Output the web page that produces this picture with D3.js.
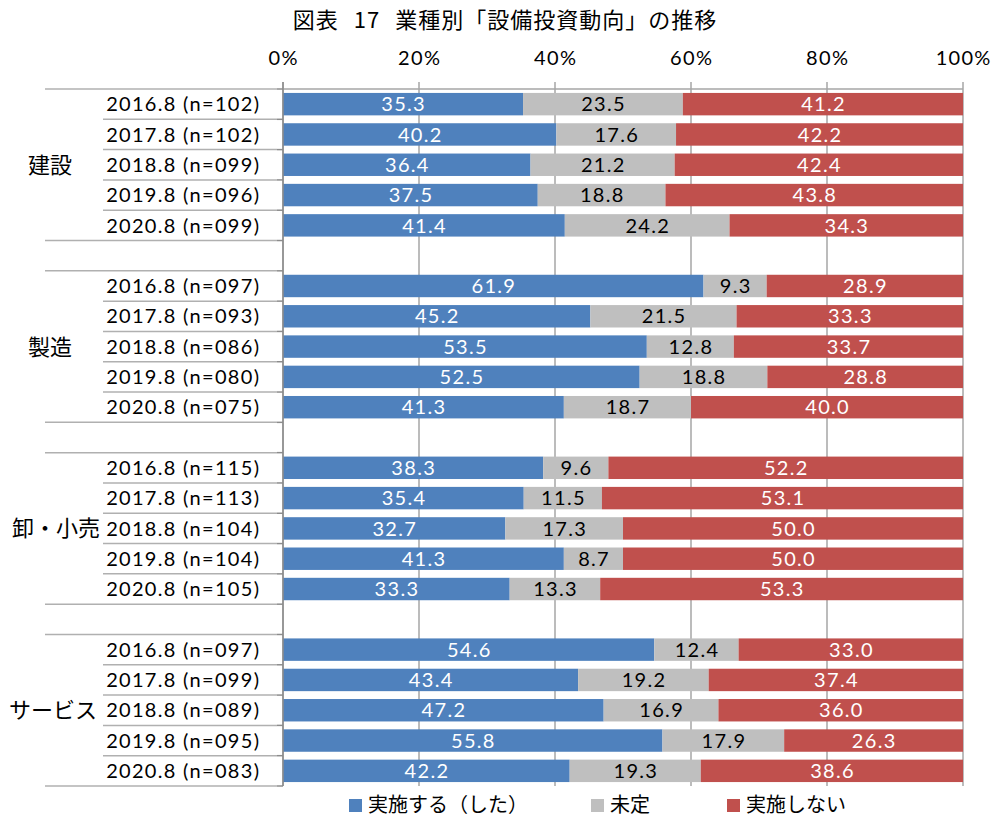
<!DOCTYPE html>
<html>
<head>
<meta charset="utf-8">
<script src="https://cdn.jsdelivr.net/npm/d3@7"></script>
<style>
  body { margin: 0; background: #fff; }
  text { font-family: Lato, "Noto Sans CJK JP", sans-serif; }
  .jp { font-family: "Noto Sans CJK JP", sans-serif; }
</style>
</head>
<body>
<svg id="chart" width="993" height="818"></svg>
<script>
var groups = ["建設", "製造", "卸・小売", "サービス"];
var periods = ["2016.8", "2017.8", "2018.8", "2019.8", "2020.8"];
var sampleSizes = [
    ["102", "102", "099", "096", "099"],
    ["097", "093", "086", "080", "075"],
    ["115", "113", "104", "104", "105"],
    ["097", "099", "089", "095", "083"]
];
var implemented = [
    [35.3, 40.2, 36.4, 37.5, 41.4],
    [61.9, 45.2, 53.5, 52.5, 41.3],
    [38.3, 35.4, 32.7, 41.3, 33.3],
    [54.6, 43.4, 47.2, 55.8, 42.2]
];
var undecided = [
    [23.5, 17.6, 21.2, 18.8, 24.2],
    [9.3, 21.5, 12.8, 18.8, 18.7],
    [9.6, 11.5, 17.3, 8.7, 13.3],
    [12.4, 19.2, 16.9, 17.9, 19.3]
];
var notImplemented = [
    [41.2, 42.2, 42.4, 43.8, 34.3],
    [28.9, 33.3, 33.7, 28.8, 40.0],
    [52.2, 53.1, 50.0, 50.0, 53.3],
    [33.0, 37.4, 36.0, 26.3, 38.6]
];
var seriesNames = ["実施する（した）", "未定", "実施しない"];
var seriesColors = ["#4f81bd", "#bfbfbf", "#c0504d"];
var labelColors = ["#fff", "#000", "#fff"];
var xTicks = [0, 20, 40, 60, 80, 100];

var svg = d3.select("#chart");
var plotLeft = 283, plotRight = 963, plotTop = 89, plotBottom = 786;
var ls = 1.3; // extra letter spacing for the latin labels

// build rows, with a blank row between groups
var rows = [];
groups.forEach(function (g, gi) {
    periods.forEach(function (p, pi) {
        rows.push({
            id: gi + "-" + pi, group: g, gi: gi, pi: pi,
            label: p + " (n=" + sampleSizes[gi][pi] + ")",
            values: [implemented[gi][pi], undecided[gi][pi], notImplemented[gi][pi]]
        });
    });
    if (gi < groups.length - 1) rows.push({ id: "blank" + gi, blank: true });
});

var x = d3.scaleLinear().domain([0, 100]).range([plotLeft, plotRight]);
var y = d3.scaleBand()
    .domain(rows.map(function (d) { return d.id; }))
    .range([plotTop, plotBottom])
    .paddingInner(0.26)
    .paddingOuter(0.13);
var step = y.step();

// title
svg.append("text")
    .attr("class", "jp")
    .attr("x", 505).attr("y", 28)
    .attr("text-anchor", "middle")
    .style("font-size", "22px")
    .style("letter-spacing", "1px")
    .style("word-spacing", "9px")
    .text("図表 17 業種別「設備投資動向」の推移");

// grid lines + top axis
var gridColor = "#a6a6a6";
svg.selectAll(".grid")
    .data(xTicks)
    .enter().append("line")
    .attr("x1", function (d) { return x(d); })
    .attr("x2", function (d) { return x(d); })
    .attr("y1", plotTop - 7).attr("y2", plotBottom)
    .attr("stroke", gridColor).attr("stroke-width", 1.5);

svg.append("line")
    .attr("x1", plotLeft).attr("x2", plotRight)
    .attr("y1", plotTop).attr("y2", plotTop)
    .attr("stroke", gridColor).attr("stroke-width", 1.5);

svg.selectAll(".tick-label")
    .data(xTicks)
    .enter().append("text")
    .attr("x", function (d) { return x(d) + ls / 2; })
    .attr("y", 65)
    .attr("text-anchor", "middle")
    .style("font-size", "20px")
    .style("letter-spacing", ls + "px")
    .text(function (d) { return d + "%"; });

// table lines on the left
d3.range(rows.length + 1).forEach(function (i) {
    var before = rows[i - 1], after = rows[i];
    var outer = !before || !after || before.blank || after.blank;
    var yy = plotTop + i * step;
    svg.append("line")
        .attr("x1", outer ? 45 : 103).attr("x2", plotLeft - 6)
        .attr("y1", yy).attr("y2", yy)
        .attr("stroke", "#b0b0b0").attr("stroke-width", 1.5);
    svg.append("line")
        .attr("x1", plotLeft - 6).attr("x2", plotLeft)
        .attr("y1", yy).attr("y2", yy)
        .attr("stroke", "#8c8c8c").attr("stroke-width", 1.5);
});

// bars
var dataRows = rows.filter(function (d) { return !d.blank; });
var segs = [];
dataRows.forEach(function (r) {
    var total = d3.sum(r.values), acc = 0;
    r.values.forEach(function (v, si) {
        var x0 = acc / total * 100;
        acc += v;
        segs.push({ row: r, si: si, v: v, x0: x0, x1: acc / total * 100 });
    });
});

svg.selectAll(".seg")
    .data(segs)
    .enter().append("rect")
    .attr("x", function (d) { return x(d.x0); })
    .attr("width", function (d) { return x(d.x1) - x(d.x0); })
    .attr("y", function (d) { return y(d.row.id); })
    .attr("height", y.bandwidth())
    .attr("fill", function (d) { return seriesColors[d.si]; });

svg.selectAll(".seg-label")
    .data(segs)
    .enter().append("text")
    .attr("x", function (d) { return (x(d.x0) + x(d.x1)) / 2 + ls / 2; })
    .attr("y", function (d) { return y(d.row.id) + y.bandwidth() / 2; })
    .attr("dy", "0.36em")
    .attr("text-anchor", "middle")
    .attr("fill", function (d) { return labelColors[d.si]; })
    .style("font-size", "20px")
    .style("letter-spacing", ls + "px")
    .text(function (d) { return d.v.toFixed(1); });

// y axis line
svg.append("line")
    .attr("x1", plotLeft).attr("x2", plotLeft)
    .attr("y1", plotTop - 7).attr("y2", plotBottom)
    .attr("stroke", "#8c8c8c").attr("stroke-width", 1.5);

// row labels
svg.selectAll(".row-label")
    .data(dataRows)
    .enter().append("text")
    .attr("x", 259 + ls)
    .attr("y", function (d) { return y(d.id) + y.bandwidth() / 2; })
    .attr("dy", "0.36em")
    .attr("text-anchor", "end")
    .style("font-size", "20px")
    .style("letter-spacing", ls + "px")
    .text(function (d) { return d.label; });

// group labels (centred on the middle row)
var groupX = [50, 50, 56, 53];
svg.selectAll(".group-label")
    .data(groups)
    .enter().append("text")
    .attr("class", "jp")
    .attr("x", function (d, gi) { return groupX[gi]; })
    .attr("y", function (d, gi) { return y(gi + "-2") + y.bandwidth() / 2; })
    .attr("dy", "0.36em")
    .attr("text-anchor", "middle")
    .style("font-size", "22px")
    .text(function (d) { return d; });

// legend
var legendX = [349, 591, 727];
var legend = svg.selectAll(".legend")
    .data(seriesNames)
    .enter().append("g")
    .attr("transform", function (d, i) { return "translate(" + legendX[i] + ",805)"; });
legend.append("rect")
    .attr("x", 0).attr("y", -6)
    .attr("width", 13).attr("height", 13)
    .attr("fill", function (d, i) { return seriesColors[i]; });
legend.append("text")
    .attr("class", "jp")
    .attr("x", 19).attr("dy", "0.34em")
    .style("font-size", "20px")
    .text(function (d) { return d; });
</script>
</body>
</html>
